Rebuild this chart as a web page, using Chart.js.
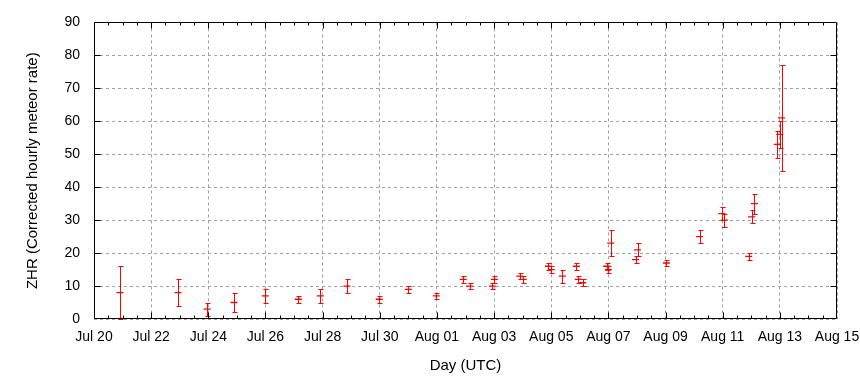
<!DOCTYPE html>
<html>
<head>
<meta charset="utf-8">
<script src="https://cdn.jsdelivr.net/npm/chart.js@4.4.0/dist/chart.umd.min.js"></script>
<style>
html, body { margin: 0; padding: 0; background: #fff; }
#wrap { width: 860px; height: 380px; }
</style>
</head>
<body>
<div id="wrap"><canvas id="zhrChart"></canvas></div>
<script>
// x = days since Jul 20 00:00 UTC
var days = [0.91, 2.94, 3.96, 4.90, 5.99, 7.15, 7.92, 8.85, 9.98, 11.0,
    11.98, 12.92, 13.14, 13.94, 14.01, 14.90, 15.02, 15.90, 16.0, 16.39,
    16.88, 16.95, 17.10, 17.94, 18.0, 18.08, 18.95, 19.02, 20.03, 21.19,
    21.97, 22.06, 22.91, 23.01, 23.11, 23.91, 24.0, 24.06]
var zhr = [8, 8, 3, 5, 7, 6, 7, 10, 6, 9,
    7, 12, 10, 10, 12, 13, 12, 16, 15, 13,
    16, 12, 11, 16, 15, 23, 18, 21, 17, 25,
    32, 30, 19, 31, 35, 53, 56, 61]
var zhr_low = [0, 4, 1, 2, 5, 5, 5, 8, 5, 8,
    6, 11, 9, 9, 11, 12, 11, 15, 14, 11,
    15, 11, 10, 15, 14, 19, 17, 19, 16, 23,
    30, 28, 18, 29, 32, 49, 52, 45]
var zhr_high = [16, 12, 5, 8, 9, 7, 9, 12, 7, 10,
    8, 13, 11, 11, 13, 14, 13, 17, 16, 15,
    17, 13, 12, 17, 16, 27, 19, 23, 18, 27,
    34, 32, 20, 33, 38, 57, 60, 77]
var day_labels = ['Jul 20', 'Jul 22', 'Jul 24', 'Jul 26', 'Jul 28', 'Jul 30', 'Aug 01',
    'Aug 03', 'Aug 05', 'Aug 07', 'Aug 09', 'Aug 11', 'Aug 13', 'Aug 15']

const fontFamily = '"Liberation Sans", Arial, sans-serif'
const red = '#ff0000'

// vertical error bars with small caps
var errorBars = {
    id: 'errorBars',
    afterDatasetsDraw: function (chart) {
        var ctx = chart.ctx
        var xs = chart.scales.x
        var ys = chart.scales.y
        ctx.save()
        ctx.strokeStyle = red
        ctx.lineWidth = 1
        ctx.beginPath()
        for (var i = 0; i < days.length; i++) {
            var x = Math.round(xs.getPixelForValue(days[i])) + 0.5
            var yl = Math.round(ys.getPixelForValue(zhr_low[i])) + 0.5
            var yh = Math.round(ys.getPixelForValue(zhr_high[i])) + 0.5
            ctx.moveTo(x, yl)
            ctx.lineTo(x, yh)
            ctx.moveTo(x - 2, yl)
            ctx.lineTo(x + 3, yl)
            ctx.moveTo(x - 2, yh)
            ctx.lineTo(x + 3, yh)
        }
        ctx.stroke()
        ctx.restore()
    }
}

// gnuplot style border with inward ticks
var frame = {
    id: 'frame',
    afterDraw: function (chart) {
        var ctx = chart.ctx
        var a = chart.chartArea
        var xs = chart.scales.x
        var ys = chart.scales.y
        var l = Math.round(a.left) + 0.5
        var r = Math.round(a.right) - 0.5
        var t = Math.round(a.top) + 0.5
        var b = Math.round(a.bottom) - 0.5
        ctx.save()
        ctx.strokeStyle = '#000'
        ctx.lineWidth = 1
        ctx.beginPath()
        ctx.rect(l, t, r - l, b - t)
        for (var v = 10; v < 90; v += 10) {
            var y = Math.round(ys.getPixelForValue(v)) + 0.5
            ctx.moveTo(l, y); ctx.lineTo(l + 6, y)
            ctx.moveTo(r, y); ctx.lineTo(r - 6, y)
        }
        for (var d = 0.5; d < 26; d += 0.5) {
            var x = Math.round(xs.getPixelForValue(d)) + 0.5
            var len = (d % 2 === 0) ? 6 : 3
            ctx.moveTo(x, b); ctx.lineTo(x, b - len)
            ctx.moveTo(x, t); ctx.lineTo(x, t + len)
        }
        ctx.stroke()
        ctx.restore()
    }
}

const ctx0 = document.getElementById('zhrChart')

var zhr_chart = new Chart(ctx0, {
    type: 'scatter',
    data: {
        datasets: [
            {
                label: 'ZHR',
                data: days.map((d, i) => ({ x: d, y: zhr[i] })),
                pointStyle: 'line',
                pointRadius: 3.5,
                borderColor: red,
                backgroundColor: red,
                borderWidth: 1.3
            }
        ]
    },
    options: {
        responsive: true,
        maintainAspectRatio: false,
        animation: false,
        layout: { padding: { top: 19, right: 23, left: 0, bottom: 0 } },
        plugins: {
            legend: { display: false },
            tooltip: { enabled: false }
        },
        scales: {
            x: {
                type: 'linear',
                min: 0,
                max: 26,
                afterFit: (s) => {
                    s.height = 61
                    s.paddingLeft = 0
                    s.paddingRight = 0
                },
                ticks: {
                    stepSize: 2,
                    padding: 10,
                    color: '#000',
                    font: { family: fontFamily, size: 14 },
                    maxRotation: 0,
                    autoSkip: false,
                    callback: (v) => day_labels[Math.round(v / 2)]
                },
                grid: { color: '#a0a0a0', drawTicks: false },
                border: { display: false, dash: [3, 3] },
                title: {
                    display: true,
                    text: 'Day (UTC)',
                    color: '#000',
                    font: { family: fontFamily, size: 15 },
                    padding: { top: 0, bottom: 5 }
                }
            },
            y: {
                min: 0,
                max: 90,
                afterFit: (s) => { s.width = 94 },
                ticks: {
                    stepSize: 10,
                    padding: 14,
                    color: '#000',
                    font: { family: fontFamily, size: 14 }
                },
                grid: { color: '#a0a0a0', drawTicks: false },
                border: { display: false, dash: [3, 3] },
                title: {
                    display: true,
                    text: 'ZHR (Corrected hourly meteor rate)',
                    color: '#000',
                    font: { family: fontFamily, size: 15 },
                    padding: { top: 24, bottom: 0 }
                }
            }
        }
    },
    plugins: [errorBars, frame]
})
</script>
</body>
</html>
